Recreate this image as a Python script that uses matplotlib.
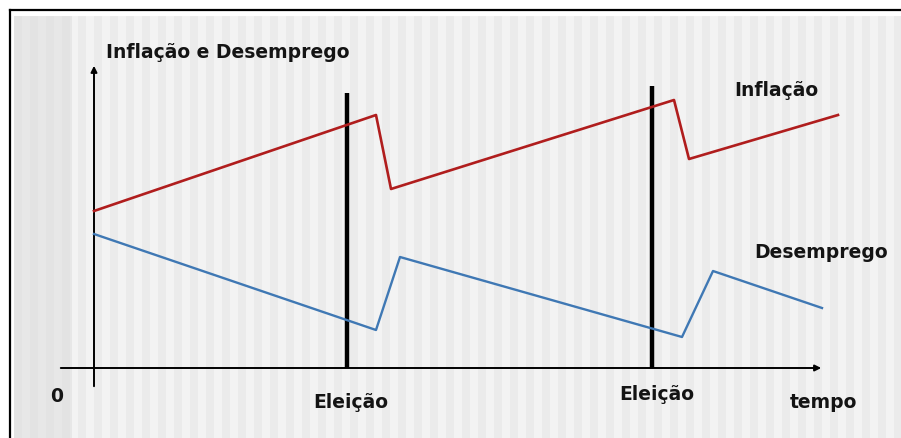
import matplotlib.pyplot as plt
import numpy as np
from matplotlib.patches import Rectangle

# schematic values: time from the vertical axis, level above the time axis
infl_t = [0, 282, 297, 580, 595, 744]
infl_v = [157, 253, 179, 268, 209, 253]
desemp_t = [0, 282, 306, 588, 619, 728]
desemp_v = [134, 38, 111, 31, 97, 60]
eleicao_t = [253, 558]
eleicao_top = [275, 282]
eleicao_labels = ["Eleição", "Eleição"]

fig = plt.figure(figsize=(9.01, 4.39), dpi=100)
ax = fig.add_axes([0, 0, 1, 1])
ax.set_xlim(-94, 807)
ax.set_ylim(-70, 369)
ax.axis('off')

# frame and striped background
ax.add_patch(Rectangle((-80, -75), 900, 427, facecolor='#f3f3f3', edgecolor='none', zorder=0))
for x0 in np.arange(-80, 810, 16):
    ax.add_patch(Rectangle((x0, -75), 8, 427, facecolor='#ebebeb', edgecolor='none', zorder=0))
ax.add_patch(Rectangle((-80, -75), 58, 427, facecolor='#dcdcdc', edgecolor='none', alpha=0.5, zorder=0))
ax.plot([-84, -84], [-75, 358], color='black', lw=1.6, zorder=1)
ax.plot([-84, 810], [358, 358], color='black', lw=1.6, zorder=1)

# axes with arrows
ax.annotate('', xy=(0, 305), xytext=(0, -21),
            arrowprops=dict(arrowstyle='-|>', color='black', lw=1.4, mutation_scale=9), zorder=3)
ax.annotate('', xy=(730, 0), xytext=(-36, 0),
            arrowprops=dict(arrowstyle='-|>', color='black', lw=1.4, mutation_scale=9), zorder=3)

# election lines
for t, top in zip(eleicao_t, eleicao_top):
    ax.plot([t, t], [0, top], color='black', lw=3.2, zorder=3, solid_capstyle='butt')

ax.plot(infl_t, infl_v, color='#b01d1d', lw=1.9, zorder=4)
ax.plot(desemp_t, desemp_v, color='#3f78b4', lw=1.7, zorder=4)

fs = 13.5
tc = '#141414'
ax.text(12, 317, "Inflação e Desemprego", fontsize=fs, fontweight='bold', color=tc, va='center', ha='left')
ax.text(682, 279, "Inflação", fontsize=fs, fontweight='bold', color=tc, va='center', ha='center')
ax.text(727, 116, "Desemprego", fontsize=fs, fontweight='bold', color=tc, va='center', ha='center')
ax.text(-37, -28, "0", fontsize=fs, fontweight='bold', color=tc, va='center', ha='center')
ax.text(eleicao_t[0] + 4, -34, eleicao_labels[0], fontsize=fs, fontweight='bold', color=tc, va='center', ha='center')
ax.text(eleicao_t[1] + 5, -26, eleicao_labels[1], fontsize=fs, fontweight='bold', color=tc, va='center', ha='center')
ax.text(729, -34, "tempo", fontsize=fs, fontweight='bold', color=tc, va='center', ha='center')

fig.savefig('out.png', dpi=100)
